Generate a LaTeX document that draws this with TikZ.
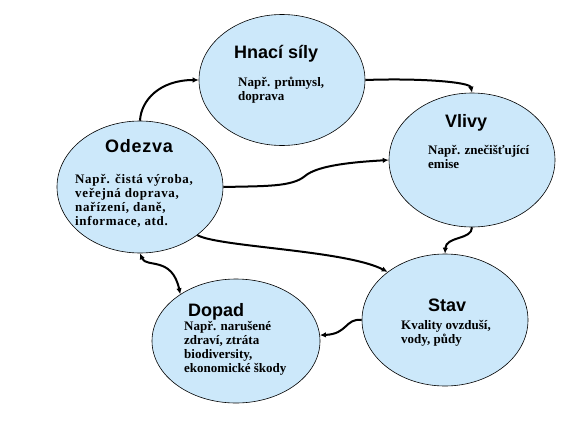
\documentclass[tikz,border=0pt]{standalone}
\usepackage{fontspec}
\setmainfont{Liberation Serif}
\newfontfamily\headfont{Liberation Sans}
\usetikzlibrary{
    arrows.meta,      % For arrow tips
    shapes.geometric  % For the ellipse shape
}
\definecolor{bubble}{RGB}{204,232,250}
\tikzset{
    % Style for the blue ellipses
    bubble/.style={
        draw,
        ellipse,
        line width=0.6pt,
        fill=bubble,
        inner sep=0pt
    },
    % Style for the ellipse titles
    title/.style={
        font=\headfont\bfseries\fontsize{18}{20}\selectfont,
        anchor=base west,
        inner sep=0pt
    },
    % Style for the example texts (anchored at the last line)
    body/.style={
        font=\bfseries\fontsize{13}{14}\selectfont,
        align=left,
        anchor=base west,
        inner sep=0pt
    },
    % Style for the connecting arrows
    arrow/.style={
        ->,
        line width=2pt,
        >={Latex[length=6pt,width=5.5pt]}
    }
}

\begin{document}
\begin{tikzpicture}[x=1pt, y=-1pt]
    \useasboundingbox (0,0) rectangle (578,434);

    % --- The five ellipses ---
    \node (hnaci)  [bubble, minimum width=166pt, minimum height=131pt] at (282,80)  {};
    \node (vlivy)  [bubble, minimum width=166pt, minimum height=134pt] at (472,160) {};
    \node (odezva) [bubble, minimum width=166pt, minimum height=132pt] at (140,187) {};
    \node (dopad)  [bubble, minimum width=168pt, minimum height=124pt] at (236,341) {};
    \node (stav)   [bubble, minimum width=166pt, minimum height=132pt] at (445,320) {};

    % --- Titles ---
    \node (hnaci_title)  [title] at (234,58)  {Hnací síly};
    \node (vlivy_title)  [title] at (445,127) {Vlivy};
    \node (odezva_title) [title, font=\headfont\bfseries\fontsize{18}{20}\selectfont\addfontfeature{LetterSpace=4}] at (105,152) {Odezva};
    \node (dopad_title)  [title] at (188,316) {Dopad};
    \node (stav_title)   [title] at (428,311) {Stav};

    % --- Examples ---
    \node (hnaci_text)  [body] at (238,100) {Např. průmysl,\\doprava};
    \node (vlivy_text)  [body] at (428,168) {Např. znečišťující\\emise};
    \node (odezva_text) [body, font=\bfseries\fontsize{13}{14}\selectfont\addfontfeature{LetterSpace=5}] at (75,225) {Např. čistá výroba,\\veřejná doprava,\\nařízení, daně,\\informace, atd.};
    \node (dopad_text)  [body] at (184,372) {Např. narušené\\zdraví, ztráta\\biodiversity,\\ekonomické škody};
    \node (stav_text)   [body] at (401,343) {Kvality ovzduší,\\vody, půdy};

    % --- Arrows ---
    \draw [arrow] (odezva.north) .. controls (141,100) and (160,80) .. (hnaci.west);
    \draw [arrow] (hnaci.east) .. controls (420,78) and (470,82) .. (vlivy.north);
    \draw [arrow] (odezva.east) .. controls (265,186) and (292,187) .. (305,176)
                  .. controls (318,165) and (355,162) .. (vlivy.west);
    \draw [arrow] (vlivy.south) .. controls (472,240) and (446,236) .. (stav.north);
    \draw [arrow] (odezva.-40) .. controls (218,247) and (345,250) .. (stav.140);
    \draw [arrow] (stav.west) .. controls (345,318) and (348,334) .. (dopad.4);
    \draw [arrow, <->] (odezva.south) .. controls (146,268) and (172,256) .. (dopad.140);

\end{tikzpicture}
\end{document}
